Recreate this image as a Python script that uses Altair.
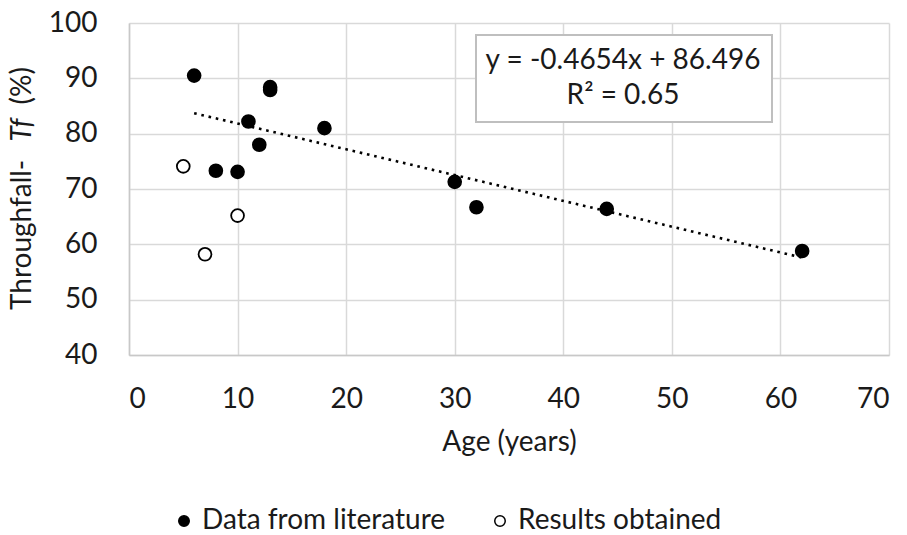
import altair as alt
import pandas as pd

# ---- data ----
series_names = ["Data from literature", "Results obtained"]
lit_age = [6, 8, 10, 11, 12, 13, 13, 18, 30, 32, 44, 62]
lit_tf = [90.5, 73.3, 73.1, 82.2, 78.0, 88.4, 87.9, 81.0, 71.3, 66.7, 66.4, 58.8]
obt_age = [5, 7, 10]
obt_tf = [74.1, 58.2, 65.2]
trend_age = [6, 62]
trend_tf = [83.7, 57.6]
x_ticks = [0, 10, 20, 30, 40, 50, 60, 70]
y_ticks = [40, 50, 60, 70, 80, 90, 100]
eq_line1 = "y = -0.4654x + 86.496"
eq_line2 = "R² = 0.65"
y_title_parts = ["Throughfall-", "Tf", "(%)"]
x_title = "Age (years)"

FONT = "Lato"
FS = 28
TXT = "#1a1a1a"
W, H = 760, 332

pts = pd.DataFrame({
    "age": lit_age + obt_age,
    "tf": lit_tf + obt_tf,
    "series": [series_names[0]] * len(lit_age) + [series_names[1]] * len(obt_age),
})
trend = pd.DataFrame({"age": trend_age, "tf": trend_tf})
one = pd.DataFrame({"k": [0]})

xs = alt.Scale(domain=[0, 70], nice=False, zero=False)
ys = alt.Scale(domain=[40, 100], nice=False, zero=False)

points = alt.Chart(pts).mark_point(shape="circle", stroke="black", strokeWidth=1.8,
                                   opacity=1, fillOpacity=1, size=165).encode(
    x=alt.X("age:Q", scale=xs, title=x_title,
            axis=alt.Axis(values=x_ticks, labelPadding=30, titlePadding=15)),
    y=alt.Y("tf:Q", scale=ys, title=None,
            axis=alt.Axis(values=y_ticks, labelPadding=32)),
    fill=alt.Fill("series:N", scale=alt.Scale(domain=series_names, range=["black", "white"]),
                  legend=alt.Legend(title=None, orient="none", direction="horizontal",
                                    legendX=41, legendY=484, symbolType="circle",
                                    symbolSize=110, symbolStrokeColor="black",
                                    symbolStrokeWidth=1.5, labelFontSize=FS,
                                    labelFont=FONT, labelColor=TXT, labelOffset=4,
                                    labelLimit=0, columnPadding=40, padding=0)),
)

trend_line = alt.Chart(trend).mark_line(color="black", strokeWidth=2.6,
                                        strokeDash=[2.6, 4.8]).encode(
    x=alt.X("age:Q", scale=xs), y=alt.Y("tf:Q", scale=ys))

box = alt.Chart(one).mark_rect(fill="white", stroke="#bfbfbf", strokeWidth=2).encode(
    x=alt.value(347), x2=alt.value(643), y=alt.value(12), y2=alt.value(99))

eq1 = alt.Chart(one).mark_text(font=FONT, fontSize=FS, color=TXT, align="center",
                               baseline="middle", text=eq_line1).encode(
    x=alt.value(494), y=alt.value(38))
eq2 = alt.Chart(one).mark_text(font=FONT, fontSize=FS, color=TXT, align="center",
                               baseline="middle", text=eq_line2).encode(
    x=alt.value(494), y=alt.value(73))

yt1 = alt.Chart(one).mark_text(font=FONT, fontSize=FS, color=TXT, align="left",
                               baseline="middle", angle=270, text=y_title_parts[0]).encode(
    x=alt.value(-106), y=alt.value(287))
yt2 = alt.Chart(one).mark_text(font=FONT, fontSize=FS, color=TXT, align="center",
                               baseline="middle", angle=270, fontStyle="italic",
                               text=y_title_parts[1]).encode(
    x=alt.value(-106), y=alt.value(107))
yt3 = alt.Chart(one).mark_text(font=FONT, fontSize=FS, color=TXT, align="right",
                               baseline="middle", angle=270, text=y_title_parts[2]).encode(
    x=alt.value(-106), y=alt.value(44))

chart = alt.layer(points, trend_line, box, eq1, eq2, yt1, yt2, yt3).properties(
    width=W, height=H,
    autosize=alt.AutoSizeParams(type="none"),
    padding={"left": 129, "top": 23, "right": 18, "bottom": 180},
    background="white",
).configure_view(stroke=None).configure_axis(
    grid=True, gridColor="#d9d9d9", gridWidth=1.5,
    domainColor="#c8c8c8", domainWidth=1.5, ticks=False,
    labelFont=FONT, labelFontSize=FS, labelColor=TXT,
    titleFont=FONT, titleFontSize=FS, titleColor=TXT, titleFontWeight="normal",
)

chart.save("out.html", embed_options={"renderer": "svg", "actions": False})
